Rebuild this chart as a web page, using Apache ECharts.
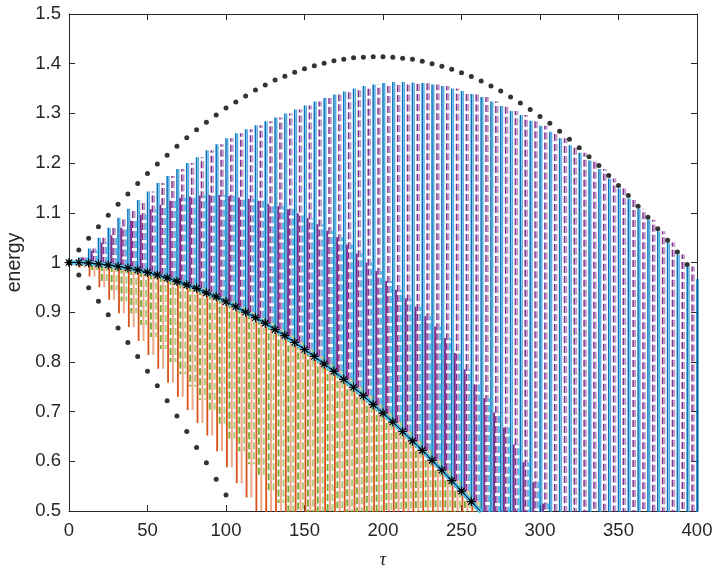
<!DOCTYPE html>
<html>
<head>
<meta charset="utf-8">
<script src="https://cdn.jsdelivr.net/npm/echarts/dist/echarts.min.js"></script>
<style>
html, body { margin: 0; padding: 0; background: #fff; }
#chart { width: 715px; height: 568px; }
</style>
</head>
<body>
<div id="chart"></div>
<script>
// sampling grid (tau), one step per dot on the bound curves
const tau = [0, 6.25, 12.5, 18.75, 25, 31.25, 37.5, 43.75, 50, 56.25, 62.5, 68.75, 75, 81.25, 87.5, 93.75,
  100, 106.25, 112.5, 118.75, 125, 131.25, 137.5, 143.75, 150, 156.25, 162.5, 168.75, 175, 181.25, 187.5, 193.75,
  200, 206.25, 212.5, 218.75, 225, 231.25, 237.5, 243.75, 250, 256.25, 262.5, 268.75, 275, 281.25, 287.5, 293.75,
  300, 306.25, 312.5, 318.75, 325, 331.25, 337.5, 343.75, 350, 356.25, 362.5, 368.75, 375, 381.25, 387.5, 393.75, 400];

// black line with asterisks (also the base of every oscillation)
const separatrix = [1.000, 1.000, 0.999, 0.997, 0.995, 0.992, 0.989, 0.985, 0.980, 0.975,
  0.969, 0.962, 0.955, 0.948, 0.939, 0.931, 0.921, 0.911, 0.900, 0.889,
  0.878, 0.865, 0.853, 0.839, 0.825, 0.811, 0.796, 0.781, 0.765, 0.749,
  0.732, 0.714, 0.697, 0.679, 0.660, 0.641, 0.622, 0.602, 0.582, 0.561,
  0.540, 0.519, 0.498, 0.476, 0.454, 0.431, 0.408, 0.385, 0.362, 0.339,
  0.315, 0.291, 0.267, 0.243, 0.219, 0.195, 0.170, 0.146, 0.121, 0.096,
  0.071, 0.046, 0.021, -0.004, -0.029];

// peaks of the tall blue / purple oscillations
const upperTop = [1.000, 1.010, 1.028, 1.050, 1.070, 1.090, 1.108, 1.126, 1.143, 1.160,
  1.174, 1.188, 1.200, 1.212, 1.226, 1.238, 1.250, 1.260, 1.268, 1.276,
  1.284, 1.292, 1.300, 1.308, 1.316, 1.324, 1.331, 1.338, 1.344, 1.350,
  1.355, 1.358, 1.361, 1.363, 1.363, 1.362, 1.361, 1.358, 1.355, 1.350,
  1.345, 1.339, 1.333, 1.324, 1.315, 1.305, 1.297, 1.285, 1.275, 1.263,
  1.250, 1.236, 1.221, 1.205, 1.188, 1.169, 1.149, 1.129, 1.108, 1.086,
  1.063, 1.040, 1.016, 0.992, 0.967];

// peaks of the dense middle band
const middleTop = [1.000, 1.010, 1.024, 1.040, 1.055, 1.070, 1.084, 1.096, 1.107, 1.116,
  1.124, 1.130, 1.133, 1.135, 1.136, 1.136, 1.134, 1.131, 1.128, 1.124,
  1.118, 1.113, 1.107, 1.099, 1.089, 1.077, 1.064, 1.051, 1.036, 1.018,
  1.000, 0.983, 0.963, 0.945, 0.928, 0.911, 0.892, 0.871, 0.848, 0.818,
  0.785, 0.755, 0.727, 0.698, 0.668, 0.634, 0.598, 0.558, 0.515];

// troughs of the orange (A) and green (B) oscillations
const lowerBottomA = [1.000, 0.990, 0.972, 0.950, 0.925, 0.898, 0.870, 0.842, 0.814, 0.786,
  0.758, 0.730, 0.703, 0.677, 0.652, 0.620, 0.588, 0.556, 0.527, 0.500,
  0.470, 0.45, 0.43, 0.41, 0.39, 0.37, 0.35, 0.33, 0.31, 0.29,
  0.27, 0.25, 0.23, 0.21, 0.19, 0.17, 0.15, 0.13, 0.11, 0.09, 0.07, 0.05];
const lowerBottomB = [1.000, 0.993, 0.980, 0.963, 0.944, 0.922, 0.898, 0.874, 0.850, 0.826,
  0.800, 0.775, 0.750, 0.724, 0.698, 0.672, 0.646, 0.620, 0.594, 0.568,
  0.542, 0.516, 0.49, 0.47, 0.45, 0.43, 0.41, 0.39, 0.37, 0.35,
  0.33, 0.31, 0.29, 0.27, 0.25, 0.23, 0.21, 0.19, 0.17, 0.15, 0.13, 0.11];

// dotted bounds
const upperDots = [1.000, 1.025, 1.049, 1.072, 1.095, 1.117, 1.138, 1.159, 1.179, 1.198,
  1.216, 1.234, 1.251, 1.267, 1.282, 1.297, 1.311, 1.323, 1.335, 1.347,
  1.357, 1.367, 1.375, 1.383, 1.390, 1.396, 1.401, 1.406, 1.409, 1.412,
  1.413, 1.414, 1.414, 1.413, 1.411, 1.409, 1.405, 1.400, 1.395, 1.389,
  1.382, 1.374, 1.365, 1.355, 1.345, 1.333, 1.321, 1.308, 1.294, 1.280,
  1.264, 1.248, 1.231, 1.213, 1.195, 1.175, 1.155, 1.135, 1.113, 1.091,
  1.068, 1.045, 1.021, 0.996];
const lowerDots = [1.000, 0.975, 0.949, 0.922, 0.895, 0.868, 0.839, 0.811, 0.781, 0.752,
  0.722, 0.691, 0.660, 0.628, 0.597, 0.564, 0.532];

const xTicks = [0, 400, 50];
const yTicks = [0.5, 1.5, 0.1];

const axisColor = '#262626';
const labelFont = 'Liberation Sans, Arial, sans-serif';
const chart = echarts.init(document.getElementById('chart'));

// vertical strokes from base[k] to tip[k], one per grid step
function strokes(base, tip, shift) {
  const pts = [];
  const n = Math.min(base.length, tip.length);
  for (let k = 0; k < n; k++) {
    const x = tau[k] + shift;
    pts.push([x, base[k]], [x, tip[k]], [x, '-']);
  }
  return pts;
}

function strokeSeries(tip, shift, color, dashed, width) {
  return {
    type: 'line',
    data: strokes(separatrix, tip, shift),
    symbol: 'none',
    connectNulls: false,
    silent: true,
    clip: true,
    z: 2,
    lineStyle: { color: color, width: width, type: dashed ? [7, 3] : 'solid' }
  };
}

const asterisk = 'path://M10 0 L10 20 M0 10 L20 10 M3 3 L17 17 M17 3 L3 17';
const sepData = tau.slice(0, 43).map((t, k) => [t, separatrix[k]]);

const xAxisBase = {
  type: 'value', min: xTicks[0], max: xTicks[1], interval: xTicks[2],
  axisLine: { onZero: false, lineStyle: { color: axisColor, width: 1 } },
  axisTick: { inside: true, length: 6, lineStyle: { color: axisColor } },
  splitLine: { show: false }
};
const yAxisBase = {
  type: 'value', min: yTicks[0], max: yTicks[1], interval: yTicks[2],
  axisLine: { onZero: false, lineStyle: { color: axisColor, width: 1 } },
  axisTick: { inside: true, length: 6, lineStyle: { color: axisColor } },
  splitLine: { show: false }
};

chart.setOption({
  animation: false,
  backgroundColor: '#fff',
  grid: { left: 69, right: 18, top: 14, bottom: 57, containLabel: false, outerBoundsMode: 'none' },
  xAxis: [
    Object.assign({}, xAxisBase, {
      position: 'bottom',
      axisLabel: { color: axisColor, fontSize: 18.5, margin: 10, fontFamily: labelFont },
      name: 'τ', nameLocation: 'middle', nameGap: 39,
      nameTextStyle: { color: axisColor, fontSize: 19, fontStyle: 'italic', fontFamily: 'Liberation Serif, serif' }
    }),
    Object.assign({}, xAxisBase, { position: 'top', axisLabel: { show: false } })
  ],
  yAxis: [
    Object.assign({}, yAxisBase, {
      position: 'left',
      axisLabel: { color: axisColor, fontSize: 18.5, margin: 8, fontFamily: labelFont },
      name: 'energy', nameLocation: 'middle', nameGap: 41,
      nameTextStyle: { color: axisColor, fontSize: 19.5, fontFamily: labelFont }
    }),
    Object.assign({}, yAxisBase, { position: 'right', axisLabel: { show: false } })
  ],
  series: [
    strokeSeries(upperTop, 0, '#0072BD', false, 1.5),
    strokeSeries(upperTop, 1.1, '#5aaee0', false, 1.5),
    strokeSeries(upperTop, 3.1, '#7E2F8E', true, 1.5),
    strokeSeries(upperTop, 4.3, 'rgba(126,47,142,0.5)', true, 1.8),
    strokeSeries(middleTop, 2.0, '#7E2F8E', false, 1.9),
    strokeSeries(middleTop, 5.2, '#4DBEEE', true, 1.9),
    strokeSeries(lowerBottomA, 0.6, '#D95319', false, 1.8),
    strokeSeries(lowerBottomB, 2.2, '#77AC30', true, 1.9),
    strokeSeries(lowerBottomA, 3.7, 'rgba(217,83,25,0.5)', false, 2.0),
    strokeSeries(lowerBottomB, 5.3, 'rgba(119,172,48,0.6)', true, 2.0),
    {
      type: 'line', data: sepData, symbol: 'none', silent: true, z: 3,
      lineStyle: { color: '#4DBEEE', width: 4.5 }
    },
    {
      type: 'line', data: sepData, symbol: asterisk, symbolSize: 9, showAllSymbol: true,
      silent: true, z: 4,
      lineStyle: { color: '#000', width: 1 },
      itemStyle: { color: 'rgba(0,0,0,0)', borderColor: '#000', borderWidth: 1.2 }
    },
    {
      type: 'scatter', data: upperDots.map((v, k) => [tau[k], v]),
      symbol: 'circle', symbolSize: 5, silent: true, z: 5,
      itemStyle: { color: '#000' }
    },
    {
      type: 'scatter', data: lowerDots.map((v, k) => [tau[k], v]),
      symbol: 'circle', symbolSize: 5, silent: true, z: 5,
      itemStyle: { color: '#000' }
    }
  ]
});
</script>
</body>
</html>
